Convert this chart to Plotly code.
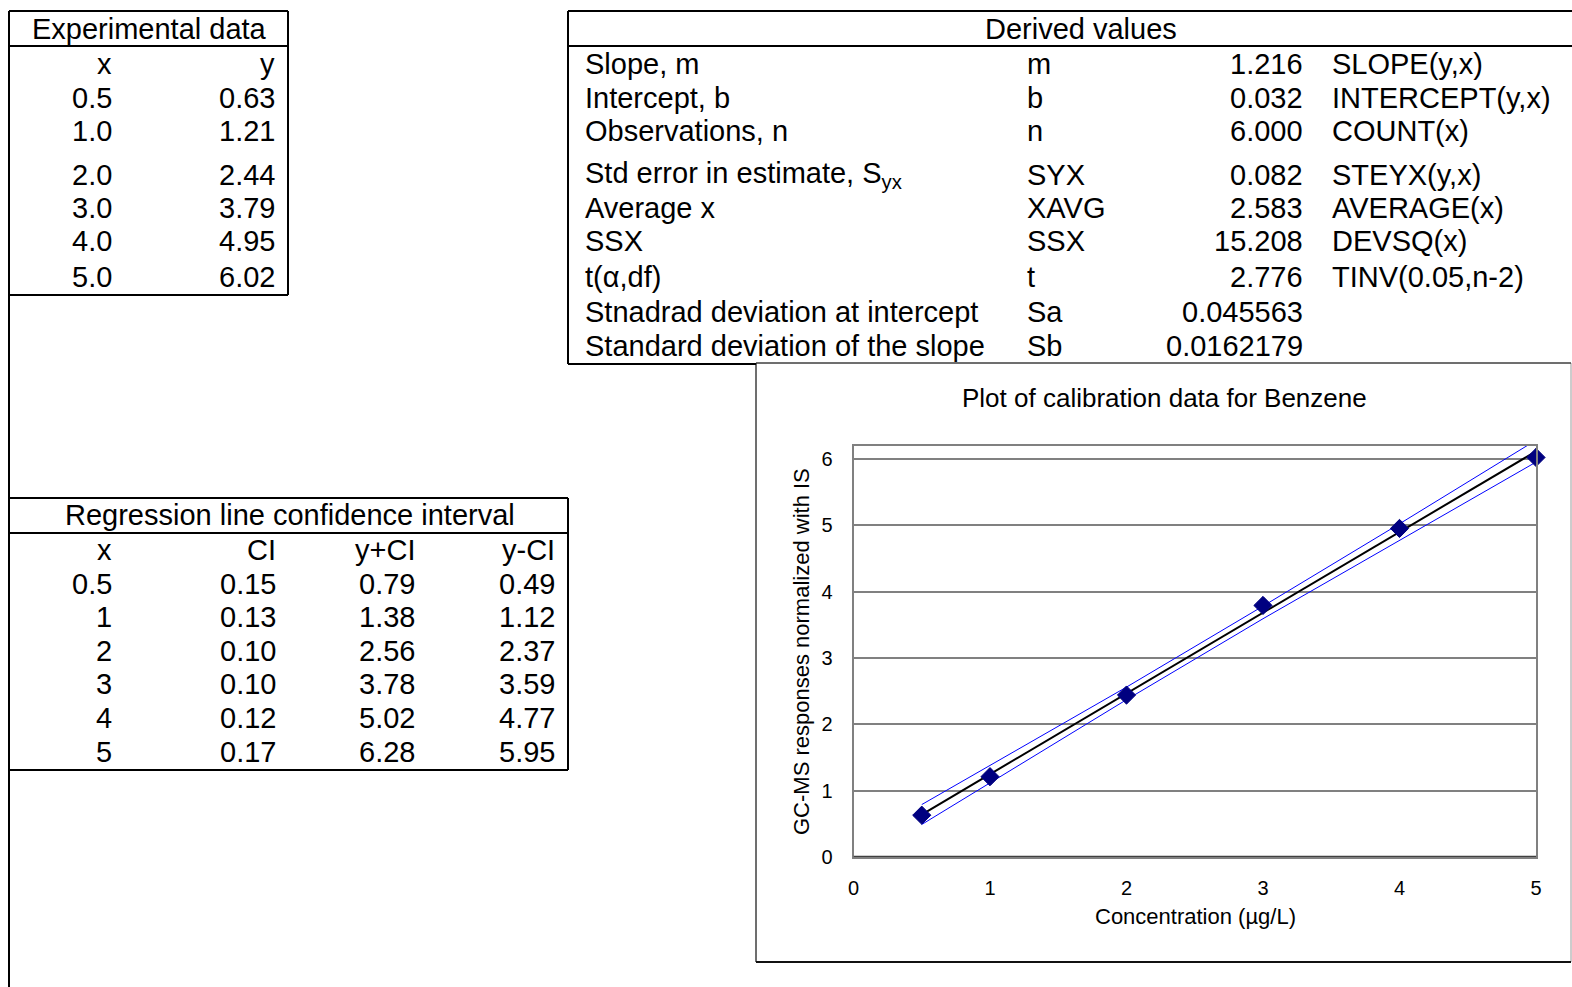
import plotly.graph_objects as go

W, H = 1572, 987

# ---------------- data ----------------
exp_x = [0.5, 1.0, 2.0, 3.0, 4.0, 5.0]
exp_y = [0.63, 1.21, 2.44, 3.79, 4.95, 6.02]

der_labels = ["Slope, m", "Intercept, b", "Observations, n",
              "Std error in estimate, S<sub>yx</sub>", "Average x", "SSX",
              "t(α,df)", "Stnadrad deviation at intercept",
              "Standard deviation of the slope"]
der_symbols = ["m", "b", "n", "SYX", "XAVG", "SSX", "t", "Sa", "Sb"]
der_values = [1.216, 0.032, 6.000, 0.082, 2.583, 15.208, 2.776, 0.045563, 0.0162179]
der_decimals = [3, 3, 3, 3, 3, 3, 3, 6, 7]
der_formulas = ["SLOPE(y,x)", "INTERCEPT(y,x)", "COUNT(x)", "STEYX(y,x)",
                "AVERAGE(x)", "DEVSQ(x)", "TINV(0.05,n-2)", "", ""]

ci_x = [0.5, 1, 2, 3, 4, 5]
ci_val = [0.15, 0.13, 0.10, 0.10, 0.12, 0.17]
ci_plus = [0.79, 1.38, 2.56, 3.78, 5.02, 6.28]
ci_minus = [0.49, 1.12, 2.37, 3.59, 4.77, 5.95]

slope = 1.216
intercept = 0.032

x_ticks = [0, 1, 2, 3, 4, 5]
y_ticks = [0, 1, 2, 3, 4, 5, 6]

FONT = "Liberation Sans, Arial, sans-serif"


def px(x):
    return x / W


def py(y):
    return 1 - y / H


fig = go.Figure()

reg_x = [min(exp_x), max(exp_x)]
reg_y = [slope * v + intercept for v in reg_x]

fig.add_trace(go.Scatter(x=ci_x, y=ci_plus, mode="lines",
                         line=dict(color="#0000FF", width=1), showlegend=False))
fig.add_trace(go.Scatter(x=ci_x, y=ci_minus, mode="lines",
                         line=dict(color="#0000FF", width=1), showlegend=False))
fig.add_trace(go.Scatter(x=reg_x, y=reg_y, mode="lines",
                         line=dict(color="#000000", width=2), showlegend=False))
fig.add_trace(go.Scatter(x=exp_x, y=exp_y, mode="markers", cliponaxis=False,
                         marker=dict(symbol="diamond", size=14, color="#000080",
                                     line=dict(color="#000080", width=1)),
                         showlegend=False))

shapes = []


def hline(x0, x1, y, w=2, c="black"):
    shapes.append(dict(type="line", xref="paper", yref="paper",
                       x0=px(x0), x1=px(x1), y0=py(y), y1=py(y),
                       line=dict(color=c, width=w)))


def vline(x, y0, y1, w=2, c="black"):
    shapes.append(dict(type="line", xref="paper", yref="paper",
                       x0=px(x), x1=px(x), y0=py(y0), y1=py(y1),
                       line=dict(color=c, width=w)))


# chart box (drawn first, below the table borders)
shapes.append(dict(type="rect", xref="paper", yref="paper",
                   x0=px(756), x1=px(1571), y0=py(962), y1=py(363),
                   line=dict(color="#9a9a9a", width=1), fillcolor="white",
                   layer="below"))
hline(756, 1571, 962, 2, "#111111")
vline(756, 363, 962, 1, "#111111")
hline(756, 1571, 363, 1, "#111111")

# big frame left border
vline(9, 11, 987)
# experimental data table
hline(9, 288, 11)
hline(9, 288, 46)
hline(9, 288, 295)
vline(288, 11, 295)
# derived values table
hline(568, 1572, 11)
hline(568, 1572, 46)
hline(568, 756, 364)
vline(568, 11, 364)
# regression CI table
hline(9, 568, 498)
hline(9, 568, 533)
hline(9, 568, 770)
vline(568, 498, 770)

# darker x axis line at y=0
shapes.append(dict(type="line", xref="x", yref="y", x0=0, x1=5, y0=0, y1=0,
                   line=dict(color="#404040", width=2.5)))

ann = []


def text(x, y, s, anchor="left", size=29):
    ann.append(dict(xref="paper", yref="paper", x=px(x), y=py(y), text=s,
                    showarrow=False, xanchor=anchor, yanchor="middle",
                    font=dict(family=FONT, size=size, color="black")))


# experimental data
text(149, 29, "Experimental data", "center")
exp_rows = [64, 98, 131, 175, 208, 241, 277]
text(114, exp_rows[0], "x", "right")
text(277, exp_rows[0], "y", "right")
for i in range(len(exp_x)):
    text(114, exp_rows[i + 1], f"{exp_x[i]:.1f}", "right")
    text(277, exp_rows[i + 1], f"{exp_y[i]:.2f}", "right")

# derived values
text(1081, 29, "Derived values", "center")
der_rows = [64, 98, 131, 175, 208, 241, 277, 312, 346]
for i in range(len(der_labels)):
    text(583, der_rows[i], der_labels[i], "left")
    text(1025, der_rows[i], der_symbols[i], "left")
    text(1305, der_rows[i], f"{der_values[i]:.{der_decimals[i]}f}", "right")
    if der_formulas[i]:
        text(1330, der_rows[i], der_formulas[i], "left")

# regression confidence interval
text(290, 515, "Regression line confidence interval", "center")
ci_rows = [550, 584, 617, 651, 684, 718, 752]
col_r = [114, 278, 417, 557]
for j, h in enumerate(["x", "CI", "y+CI", "y-CI"]):
    text(col_r[j], ci_rows[0], h, "right")
for i in range(len(ci_x)):
    text(col_r[0], ci_rows[i + 1], f"{ci_x[i]:g}", "right")
    text(col_r[1], ci_rows[i + 1], f"{ci_val[i]:.2f}", "right")
    text(col_r[2], ci_rows[i + 1], f"{ci_plus[i]:.2f}", "right")
    text(col_r[3], ci_rows[i + 1], f"{ci_minus[i]:.2f}", "right")

# chart texts
text(1164, 398, "Plot of calibration data for Benzene", "center", 26)
text(1195, 916, "Concentration (µg/L)", "center", 22)
ann.append(dict(xref="paper", yref="paper", x=px(801), y=py(652),
                text="GC-MS responses normalized with IS", showarrow=False,
                textangle=-90, xanchor="center", yanchor="middle",
                font=dict(family=FONT, size=22, color="black")))

fig.update_layout(
    width=W, height=H, autosize=False, margin=dict(l=0, r=0, t=0, b=0, autoexpand=False),
    paper_bgcolor="white", plot_bgcolor="white",
    shapes=shapes, annotations=ann, showlegend=False,
    xaxis=dict(domain=[px(853.5), px(1536)], range=[0, 5], tickvals=x_ticks,
               showgrid=False, zeroline=False, showline=True, mirror=True,
               linecolor="#808080", linewidth=2, ticks="outside", ticklen=12,
               tickcolor="rgba(0,0,0,0)", automargin=False,
               tickfont=dict(family=FONT, size=20, color="black")),
    yaxis=dict(domain=[py(857), py(445.5)], range=[0, 6.2], tickvals=y_ticks,
               showgrid=True, gridcolor="#808080", gridwidth=1.5,
               zeroline=False, showline=True, mirror=True,
               linecolor="#808080", linewidth=2, ticks="outside", ticklen=15,
               tickcolor="rgba(0,0,0,0)", automargin=False,
               tickfont=dict(family=FONT, size=20, color="black")),
)

fig.write_html(
    "out.html",
    config={"responsive": False},
    post_script="document.documentElement.style.overflow='hidden';"
                "document.body.style.margin='0';"
                "document.body.style.overflow='hidden';",
)
